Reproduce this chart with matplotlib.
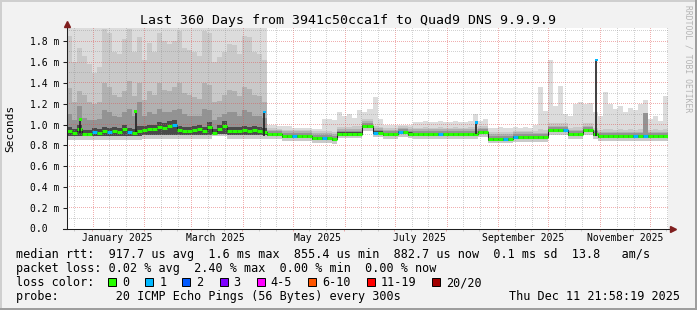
import numpy as np
import matplotlib
matplotlib.use("Agg")
import matplotlib.pyplot as plt
import matplotlib.dates as mdates
import matplotlib.transforms as mtransforms
from matplotlib.patches import Rectangle
from datetime import datetime

W, H, DPI = 697, 310, 100
plt.rcParams["font.family"] = ["DejaVu Sans Mono"]

# ------------------- data -------------------
t_start = datetime(2024, 12, 16, 21, 58)
t_end = datetime(2025, 12, 11, 21, 58)
bin_days = 3  # 120 bins of 3 days

# median rtt per bin (ms)
med = [0.94, 0.92, 0.96, 0.91, 0.91, 0.93, 0.92, 0.94, 0.925, 0.94,
       0.93, 0.96, 0.93, 0.92, 0.94, 0.95, 0.955, 0.96, 0.975, 0.97,
       0.985, 1.0, 0.95, 0.94, 0.935, 0.95, 0.96, 0.94, 0.975, 0.92,
       0.96, 0.985, 0.94, 0.94, 0.94, 0.945, 0.935, 0.945, 0.94, 0.93,
       0.905, 0.905, 0.905, 0.890, 0.890, 0.890, 0.890, 0.890, 0.890, 0.872,
       0.872, 0.872, 0.872, 0.860, 0.912, 0.912, 0.912, 0.912, 0.912, 0.985,
       0.985, 0.922, 0.922, 0.905, 0.905, 0.905, 0.925, 0.925, 0.912, 0.908,
       0.908, 0.908, 0.908, 0.908, 0.908, 0.908, 0.908, 0.908, 0.908, 0.908,
       0.908, 0.908, 0.925, 0.925, 0.863, 0.863, 0.863, 0.863, 0.863, 0.880,
       0.880, 0.880, 0.880, 0.878, 0.878, 0.878, 0.944, 0.944, 0.944, 0.944,
       0.905, 0.905, 0.905, 0.944, 0.944, 0.905, 0.887, 0.887, 0.887, 0.887,
       0.887, 0.887, 0.887, 0.887, 0.887, 0.887, 0.887, 0.887, 0.887, 0.887]

# lost pings per bin (index into loss colours)
loss = [0, 0, 0, 0, 0, 1, 0, 0, 1, 0,
        0, 0, 1, 0, 0, 0, 0, 0, 0, 0,
        0, 1, 0, 0, 0, 0, 0, 0, 0, 0,
        0, 0, 0, 0, 0, 0, 0, 0, 0, 0,
        0, 0, 0, 0, 0, 1, 0, 0, 0, 0,
        0, 1, 0, 0, 0, 0, 0, 0, 0, 0,
        0, 1, 0, 0, 0, 0, 1, 0, 0, 0,
        0, 0, 0, 0, 1, 0, 0, 0, 0, 0,
        0, 0, 0, 0, 0, 0, 0, 1, 0, 1,
        0, 0, 0, 0, 0, 0, 0, 0, 0, 1,
        0, 0, 0, 0, 0, 0, 0, 0, 0, 0,
        0, 0, 0, 1, 0, 1, 0, 0, 0, 0]

# smoke: upper edges, lightest (s1) to darkest (s5)
s1 = [2.0, 2.0, 2.0, 2.0, 2.0, 2.0, 2.0, 2.0, 2.0, 2.0,
      2.0, 2.0, 2.0, 2.0, 2.0, 2.0, 2.0, 2.0, 2.0, 2.0,
      2.0, 2.0, 2.0, 2.0, 2.0, 2.0, 2.0, 2.0, 2.0, 2.0,
      2.0, 2.0, 2.0, 2.0, 2.0, 2.0, 2.0, 2.0, 2.0, 2.0,
      1.0, 1.0, 0.99, 0.99, 0.99, 0.97, 0.97, 0.97, 0.97, 0.96,
      0.96, 1.05, 1.05, 1.04, 1.12, 1.08, 1.1, 1.06, 1.14, 1.12,
      1.15, 1.26, 1.05, 1.0, 1.0, 1.0, 1.0, 1.0, 1.0, 1.02,
      1.02, 1.03, 1.02, 1.02, 1.03, 1.02, 1.02, 1.03, 1.02, 1.02,
      1.03, 1.1, 1.03, 1.05, 0.97, 0.97, 0.98, 0.97, 0.97, 0.98,
      0.97, 0.98, 0.97, 1.0, 1.36, 1.13, 1.62, 1.18, 1.37, 1.1,
      1.08, 1.2, 1.22, 1.2, 1.21, 1.12, 1.08, 1.31, 1.2, 1.15,
      1.18, 1.12, 1.16, 1.14, 1.2, 1.24, 1.05, 1.08, 1.03, 1.27]

s2 = [1.85, 1.6, 1.74, 1.66, 1.58, 1.5, 1.55, 1.92, 1.88, 1.7,
      1.68, 1.82, 1.92, 1.7, 1.84, 1.62, 1.78, 1.7, 1.88, 1.8,
      1.77, 1.8, 1.9, 1.74, 1.72, 1.7, 1.66, 1.9, 1.88, 1.6,
      1.65, 1.7, 1.77, 1.76, 1.68, 1.85, 1.84, 1.7, 1.68, 1.62,
      0.965, 0.965, 0.960, 0.950, 0.950, 0.950, 0.950, 0.950, 0.950, 0.935,
      0.935, 0.940, 0.940, 0.930, 0.980, 0.980, 0.980, 0.985, 0.990, 1.050,
      1.050, 0.985, 0.980, 0.965, 0.965, 0.965, 0.985, 0.985, 0.975, 0.970,
      0.970, 0.975, 0.970, 0.970, 0.975, 0.970, 0.970, 0.975, 0.970, 0.970,
      0.975, 0.975, 0.985, 0.985, 0.925, 0.925, 0.930, 0.925, 0.925, 0.940,
      0.940, 0.940, 0.940, 0.940, 0.960, 0.950, 1.010, 1.010, 1.010, 1.010,
      0.970, 0.975, 0.975, 1.010, 1.010, 0.970, 0.950, 0.960, 0.955, 0.950,
      0.955, 0.950, 0.955, 0.950, 0.955, 0.960, 0.950, 0.955, 0.950, 0.955]

s3 = [1.35, 1.22, 1.32, 1.28, 1.22, 1.2, 1.22, 1.4, 1.36, 1.28,
      1.26, 1.32, 1.42, 1.27, 1.4, 1.24, 1.32, 1.28, 1.4, 1.33,
      1.32, 1.36, 1.4, 1.3, 1.28, 1.26, 1.25, 1.4, 1.38, 1.22,
      1.23, 1.28, 1.33, 1.32, 1.27, 1.36, 1.34, 1.28, 1.27, 1.22,
      0.950, 0.950, 0.950, 0.935, 0.935, 0.935, 0.935, 0.935, 0.935, 0.917,
      0.917, 0.917, 0.917, 0.905, 0.957, 0.957, 0.957, 0.957, 0.957, 1.030,
      1.030, 0.967, 0.967, 0.950, 0.950, 0.950, 0.970, 0.970, 0.957, 0.953,
      0.953, 0.953, 0.953, 0.953, 0.953, 0.953, 0.953, 0.953, 0.953, 0.953,
      0.953, 0.953, 0.970, 0.970, 0.908, 0.908, 0.908, 0.908, 0.908, 0.925,
      0.925, 0.925, 0.925, 0.923, 0.923, 0.923, 0.989, 0.989, 0.989, 0.989,
      0.950, 0.950, 0.950, 0.989, 0.989, 0.950, 0.932, 0.932, 0.932, 0.932,
      0.932, 0.932, 0.932, 0.932, 0.932, 0.932, 0.932, 0.932, 0.932, 0.932]

s4 = [1.1, 1.04, 1.18, 1.06, 1.04, 1.04, 1.05, 1.14, 1.12, 1.08,
      1.07, 1.12, 1.15, 1.08, 1.22, 1.08, 1.12, 1.1, 1.15, 1.12,
      1.12, 1.14, 1.15, 1.1, 1.08, 1.08, 1.08, 1.15, 1.14, 1.04,
      1.07, 1.1, 1.12, 1.12, 1.08, 1.14, 1.12, 1.08, 1.08, 1.06,
      0.935, 0.935, 0.935, 0.920, 0.920, 0.920, 0.920, 0.920, 0.920, 0.902,
      0.902, 0.902, 0.902, 0.890, 0.942, 0.942, 0.942, 0.942, 0.942, 1.015,
      1.015, 0.952, 0.952, 0.935, 0.935, 0.935, 0.955, 0.955, 0.942, 0.938,
      0.938, 0.938, 0.938, 0.938, 0.938, 0.938, 0.938, 0.938, 0.938, 0.938,
      0.938, 0.938, 0.955, 0.955, 0.893, 0.893, 0.893, 0.893, 0.893, 0.910,
      0.910, 0.910, 0.910, 0.908, 0.908, 0.908, 0.974, 0.974, 0.974, 0.974,
      0.935, 0.935, 0.935, 0.974, 0.974, 0.935, 0.917, 0.917, 0.917, 0.917,
      0.917, 0.917, 0.917, 0.917, 0.917, 1.110, 0.917, 0.917, 0.917, 0.917]

s5 = [0.98, 0.96, 1.0, 0.95, 0.95, 0.97, 0.96, 0.98, 0.97, 0.98,
      0.97, 1.0, 0.97, 0.96, 0.99, 0.99, 1.0, 1.0, 1.02, 1.01,
      1.03, 1.04, 0.99, 0.98, 0.98, 0.99, 1.0, 0.98, 1.02, 0.96,
      1.0, 1.03, 0.98, 0.98, 0.98, 0.99, 0.98, 0.99, 0.98, 0.97,
      0.917, 0.917, 0.917, 0.902, 0.902, 0.902, 0.902, 0.902, 0.902, 0.884,
      0.884, 0.884, 0.884, 0.872, 0.924, 0.924, 0.924, 0.924, 0.924, 0.997,
      0.997, 0.934, 0.934, 0.917, 0.917, 0.917, 0.937, 0.937, 0.924, 0.920,
      0.920, 0.920, 0.920, 0.920, 0.920, 0.920, 0.920, 0.920, 0.920, 0.920,
      0.920, 0.920, 0.937, 0.937, 0.875, 0.875, 0.875, 0.875, 0.875, 0.892,
      0.892, 0.892, 0.892, 0.890, 0.890, 0.890, 0.956, 0.956, 0.956, 0.956,
      0.917, 0.917, 0.917, 0.956, 0.956, 0.917, 0.899, 0.899, 0.899, 0.899,
      0.899, 0.899, 0.899, 0.899, 0.899, 0.899, 0.899, 0.899, 0.899, 0.899]

# smoke: lower edges (outer and inner)
lo = [0.85, 0.85, 0.85, 0.85, 0.85, 0.85, 0.85, 0.85, 0.85, 0.85,
      0.85, 0.85, 0.85, 0.85, 0.85, 0.86, 0.86, 0.86, 0.86, 0.86,
      0.86, 0.86, 0.86, 0.86, 0.86, 0.86, 0.86, 0.86, 0.86, 0.89,
      0.89, 0.89, 0.865, 0.865, 0.865, 0.865, 0.865, 0.865, 0.865, 0.865,
      0.860, 0.860, 0.860, 0.845, 0.845, 0.845, 0.845, 0.845, 0.845, 0.827,
      0.827, 0.827, 0.827, 0.815, 0.867, 0.867, 0.867, 0.867, 0.867, 0.940,
      0.940, 0.877, 0.877, 0.860, 0.860, 0.860, 0.880, 0.880, 0.867, 0.863,
      0.863, 0.863, 0.863, 0.863, 0.863, 0.863, 0.863, 0.863, 0.863, 0.863,
      0.863, 0.863, 0.880, 0.880, 0.818, 0.818, 0.818, 0.818, 0.818, 0.835,
      0.835, 0.835, 0.835, 0.833, 0.833, 0.833, 0.899, 0.899, 0.899, 0.899,
      0.860, 0.860, 0.860, 0.899, 0.899, 0.860, 0.842, 0.842, 0.842, 0.842,
      0.842, 0.842, 0.842, 0.842, 0.842, 0.842, 0.842, 0.842, 0.842, 0.842]

lo_in = [0.885, 0.885, 0.885, 0.885, 0.885, 0.885, 0.885, 0.885, 0.885, 0.885,
         0.885, 0.885, 0.885, 0.885, 0.885, 0.9, 0.9, 0.9, 0.9, 0.9,
         0.9, 0.9, 0.9, 0.9, 0.9, 0.9, 0.9, 0.9, 0.9, 0.905,
         0.905, 0.905, 0.9, 0.9, 0.9, 0.9, 0.9, 0.9, 0.9, 0.9,
         0.887, 0.887, 0.887, 0.872, 0.872, 0.872, 0.872, 0.872, 0.872, 0.854,
         0.854, 0.854, 0.854, 0.842, 0.894, 0.894, 0.894, 0.894, 0.894, 0.967,
         0.967, 0.904, 0.904, 0.887, 0.887, 0.887, 0.907, 0.907, 0.894, 0.890,
         0.890, 0.890, 0.890, 0.890, 0.890, 0.890, 0.890, 0.890, 0.890, 0.890,
         0.890, 0.890, 0.907, 0.907, 0.845, 0.845, 0.845, 0.845, 0.845, 0.862,
         0.862, 0.862, 0.862, 0.860, 0.860, 0.860, 0.926, 0.926, 0.926, 0.926,
         0.887, 0.887, 0.887, 0.926, 0.926, 0.887, 0.869, 0.869, 0.869, 0.869,
         0.869, 0.869, 0.869, 0.869, 0.869, 0.869, 0.869, 0.869, 0.869, 0.869]

# single-sample median spikes
spike_dates = ["2024-12-25", "2025-01-27", "2025-04-14", "2025-08-19", "2025-10-30"]
spike_base = [0.92, 0.93, 0.89, 0.905, 0.887]
spike_top = [1.05, 1.125, 1.12, 1.02, 1.62]
spike_loss = [0, 0, 1, 1, 1]

loss_labels = ["0", "1", "2", "3", "4-5", "6-10", "11-19", "20/20"]
loss_colors = ["#26ff00", "#00b8ff", "#0059ff", "#7e00ff", "#ff00ff", "#ff5500", "#ff0000", "#a10000"]

y_ticks = [0.0, 0.2, 0.4, 0.6, 0.8, 1.0, 1.2, 1.4, 1.6, 1.8]
y_labels = ["0.0  ", "0.2 m", "0.4 m", "0.6 m", "0.8 m", "1.0 m", "1.2 m", "1.4 m", "1.6 m", "1.8 m"]
x_label_dates = ["2025-01-16", "2025-03-16", "2025-05-16", "2025-07-16", "2025-09-16", "2025-11-16"]
x_labels = ["January 2025", "March 2025", "May 2025", "July 2025", "September 2025", "November 2025"]

title = "Last 360 Days from 3941c50cca1f to Quad9 DNS 9.9.9.9"
stat_lines = ["median rtt:  917.7 us avg  1.6 ms max  855.4 us min  882.7 us now  0.1 ms sd  13.8   am/s",
              "packet loss: 0.02 % avg  2.40 % max  0.00 % min  0.00 % now",
              "loss color:",
              "probe:        20 ICMP Echo Pings (56 Bytes) every 300s"]
stamp = "Thu Dec 11 21:58:19 2025"

# ------------------- figure -------------------
fig = plt.figure(figsize=(W / DPI, H / DPI), dpi=DPI, facecolor="#f2f2f2")
L, R, T, B = 67, 668, 27.8, 228.5
ax = fig.add_axes([L / W, 1 - B / H, (R - L) / W, (B - T) / H])
ax.set_facecolor("white")
for sp in ax.spines.values():
    sp.set_visible(False)

x0, x1 = mdates.date2num(t_start), mdates.date2num(t_end)
ymax = 1.93
ax.set_xlim(x0, x1)
ax.set_ylim(0, ymax)

edges = x0 + bin_days * np.arange(len(med) + 1)
ext = lambda a: np.append(a, a[-1])

# smoke
layers = [(lo, s1, "#dcdcdc"), (lo, s2, "#c9c9c9"), (lo_in, s3, "#b1b1b1"),
          (lo_in, s4, "#939393"), (lo_in, s5, "#4a4a4a")]
for low, high, c in layers:
    ax.fill_between(edges, ext(low), ext(high), step="post", color=c, lw=0, zorder=1)

# grid: dotted lines of single pixels (every second pixel), snapped to pixel centres
minor_c = (0.56, 0.56, 0.56, 0.4)
major_c = (0.87, 0.31, 0.31, 0.45)
month_starts, minor_days = [], []
for y, m in [(2024, 12)] + [(2025, k) for k in range(1, 13)]:
    for d in (1, 11, 21):
        t = mdates.date2num(datetime(y, m, d))
        if x0 < t < x1:
            (month_starts if d == 1 else minor_days).append(t)

ident = mtransforms.IdentityTransform()
px_left, px_bot = ax.transData.transform((x0, 0))
px_right, px_top = ax.transData.transform((x1, ymax))
cols_px = np.arange(np.ceil(px_left) + 1, px_right, 2) + 0.5
rows_px = np.arange(np.ceil(px_bot) + 1, px_top, 2) + 0.5


def dotted_v(t, c):
    xp = np.floor(ax.transData.transform((t, 0))[0]) + 0.5
    ax.plot(np.full(rows_px.size, xp), rows_px, ls="none", marker=",", color=c, transform=ident, zorder=3)


def dotted_h(v, c):
    yp = np.floor(ax.transData.transform((x0, v))[1]) + 0.5
    ax.plot(cols_px, np.full(cols_px.size, yp), ls="none", marker=",", color=c, transform=ident, zorder=3)


for t in minor_days:
    dotted_v(t, minor_c)
for t in month_starts:
    dotted_v(t, major_c)
for k in range(1, 20):
    dotted_h(k / 10, major_c if k % 2 == 0 else minor_c)

# tick marks under the x axis
bt = mtransforms.blended_transform_factory(ax.transData, ax.transAxes)
ax.vlines(minor_days, -2.5 / (B - T), 0, transform=bt, color=minor_c, lw=0.72, clip_on=False)
ax.vlines(month_starts, -2.5 / (B - T), 0, transform=bt, color=major_c, lw=0.72, clip_on=False)

# median line: thin dark step, thick colour by loss
ax.step(edges, ext(med), where="post", color="#1f1f1f", lw=0.75, zorder=4)
ax.hlines(med, edges[:-1], edges[1:], colors=[loss_colors[k] for k in loss], lw=2.2, zorder=5)

sx = mdates.date2num([datetime.fromisoformat(d) for d in spike_dates])
ax.vlines(sx, spike_base, spike_top, color="#1f1f1f", lw=1.2, zorder=5)
ax.scatter(sx, spike_top, s=4, marker="s", c=[loss_colors[k] for k in spike_loss], lw=0, zorder=6)

# axes with arrows
ax.plot([-4 / (R - L), 1.008], [0, 0], transform=ax.transAxes, color="#1f1f1f", lw=0.75,
        clip_on=False, zorder=6)
ax.plot([0, 0], [0, 1.02], transform=ax.transAxes, color="#1f1f1f", lw=0.75, clip_on=False, zorder=6)
ax.plot([1.008], [0], marker=">", ms=4, color="#801f1f", transform=ax.transAxes, clip_on=False, zorder=7)
ax.plot([0], [1.02], marker="^", ms=4, color="#801f1f", transform=ax.transAxes, clip_on=False, zorder=7)

ax.set_xticks(mdates.date2num([datetime.fromisoformat(d) for d in x_label_dates]), x_labels)
ax.tick_params(axis="x", length=0, pad=3.3, labelsize=7)
ax.set_yticks(y_ticks, y_labels)
ax.tick_params(axis="y", length=3, width=0.75, color="#1f1f1f", pad=2.8, labelsize=7)

# texts
fig.text(348.5 / W, 1 - 24 / H, title, ha="center", va="baseline", fontsize=9.5)
fig.text(10.5 / W, 1 - 128 / H, "Seconds", rotation=90, ha="center", va="center", fontsize=8)
fig.text(688 / W, 1 - 59 / H, "RRDTOOL / TOBI OETIKER", rotation=-90, ha="center", va="center",
         fontsize=5.8, color="#b4b4b4")
for i, line in enumerate(stat_lines):
    fig.text(16 / W, 1 - (258.3 + 14 * i) / H, line, va="baseline", fontsize=8.5)
fig.text(680 / W, 1 - 300.3 / H, stamp, ha="right", va="baseline", fontsize=8.5)

# loss colour legend boxes
bx = 108
for lab, c in zip(loss_labels, loss_colors):
    fig.add_artist(Rectangle((bx / W, 1 - 286 / H), 8 / W, 8 / H, transform=fig.transFigure,
                             fc=c, ec="black", lw=0.7))
    fig.text((bx + 14) / W, 1 - 286.3 / H, lab, va="baseline", fontsize=8.5)
    bx += 14 + 7.1 * len(lab) + 16.1

# 3d frame
for xy, w, h, c in [((0, 1 - 2 / H), 1, 2 / H, "#cfcfcf"), ((0, 0), 2 / W, 1, "#cfcfcf"),
                    ((0, 0), 1, 2 / H, "#9e9e9e"), ((1 - 2 / W, 0), 2 / W, 1, "#9e9e9e")]:
    fig.add_artist(Rectangle(xy, w, h, transform=fig.transFigure, fc=c, ec="none"))

fig.savefig("out.png", dpi=DPI, facecolor=fig.get_facecolor())
